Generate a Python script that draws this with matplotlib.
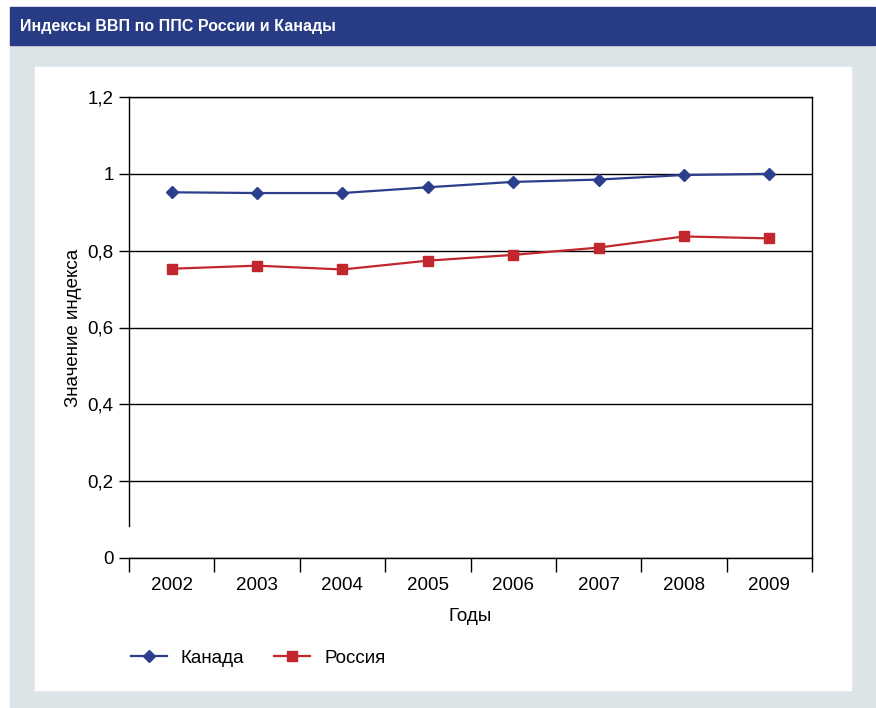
import matplotlib.pyplot as plt
from matplotlib.patches import Rectangle

plt.rcParams['font.family'] = ['Liberation Sans', 'DejaVu Sans']

# data
years = ['2002', '2003', '2004', '2005', '2006', '2007', '2008', '2009']
canada = [0.952, 0.950, 0.950, 0.965, 0.979, 0.985, 0.997, 1.000]
russia = [0.753, 0.761, 0.751, 0.774, 0.789, 0.808, 0.837, 0.832]
y_ticks = [0, 0.2, 0.4, 0.6, 0.8, 1.0, 1.2]
y_labels = ['0', '0,2', '0,4', '0,6', '0,8', '1', '1,2']

blue = '#2b3f8c'
red = '#c1272d'
fs = 13.5

W, H = 876, 708
fig = plt.figure(figsize=(W / 100, H / 100), dpi=100)

# background frames (pixel coords -> figure fraction)
def box(x0, y0, x1, y1, color):
    fig.patches.append(Rectangle((x0 / W, 1 - y1 / H), (x1 - x0) / W, (y1 - y0) / H,
                                 transform=fig.transFigure, color=color, zorder=-5))

box(10, 45, 876, 708, '#dde4e8')
box(10, 7, 875, 45, '#283b85')
box(35, 67, 851, 690, 'white')
fig.text(20 / W, 1 - 27 / H, 'Индексы ВВП по ППС России и Канады', color='white',
         fontsize=11.5, fontweight='bold', va='center', ha='left')

ax = fig.add_axes([129 / W, 1 - 558 / H, (812 - 129) / W, (558 - 97) / H])
ax.set_facecolor('none')
x = list(range(len(years)))
ax.plot(x, canada, color=blue, lw=1.6, marker='D', ms=6.5, label='Канада', zorder=3)
ax.plot(x, russia, color=red, lw=1.6, marker='s', ms=7, label='Россия', zorder=3)

ax.set_xlim(-0.5, len(years) - 0.5)
ax.set_ylim(0, 1.2)
ax.set_yticks(y_ticks)
ax.set_yticklabels(y_labels, fontsize=fs)
ax.set_xticks([i - 0.5 for i in range(len(years) + 1)])
ax.set_xticklabels([])
ax.set_xticks(x, minor=True)
ax.set_xticklabels(years, minor=True, fontsize=fs)
ax.tick_params(axis='x', which='major', length=10, width=1, direction='out')
ax.tick_params(axis='x', which='minor', length=0, pad=14)
ax.tick_params(axis='y', length=7, width=1, pad=4)
ax.yaxis.grid(True, color='black', lw=1)
for s in ax.spines.values():
    s.set_linewidth(1)
ax.spines['left'].set_bounds(0.082, 1.2)

ax.set_xlabel('Годы', fontsize=fs, labelpad=10)
ax.set_ylabel('Значение индекса', fontsize=fs, labelpad=4)

ax.legend(loc='center left', bbox_to_anchor=(131 / W, 1 - 658 / H), bbox_transform=fig.transFigure,
          ncol=2, frameon=False, fontsize=fs, handlelength=1.9, columnspacing=1.6,
          handletextpad=0.75, borderaxespad=0, borderpad=0)

fig.savefig('out.png', dpi=100)
